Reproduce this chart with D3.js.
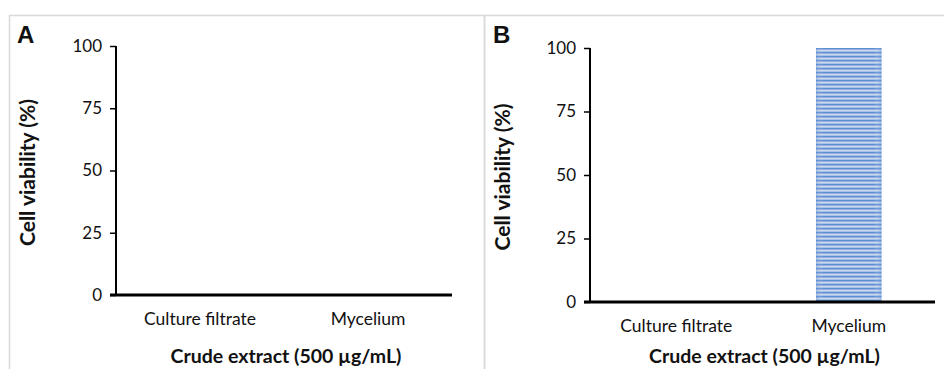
<!DOCTYPE html>
<html><head><meta charset="utf-8">
<script src="https://cdn.jsdelivr.net/npm/d3@7"></script>
<style>body{margin:0;background:#fff}svg{display:block}text{font-family:Lato,"Open Sans",sans-serif;fill:#111}</style>
</head><body>
<script>
const categories = ["Culture filtrate", "Mycelium"];
const valuesA = [0, 0];
const valuesB = [0, 100];
const yTicks = [0, 25, 50, 75, 100];
const panelLabels = ["A", "B"];
const yTitle = "Cell viability (%)";
const xTitle = "Crude extract (500 µg/mL)";

const W = 944, H = 369;
const svg = d3.select("body").append("svg").attr("width", W).attr("height", H);
const defs = svg.append("defs");
const pat = defs.append("pattern").attr("id","stripes").attr("patternUnits","userSpaceOnUse")
  .attr("width", 10).attr("height", 4);
pat.append("rect").attr("width",10).attr("height",4).attr("fill","#a8c0e6");
pat.append("rect").attr("y",0).attr("width",10).attr("height",1.3).attr("fill","#5f8dd3");
pat.append("rect").attr("y",2).attr("width",10).attr("height",0.8).attr("fill","#d3def0");
const grad = defs.append("linearGradient").attr("id","edge").attr("x1","0").attr("x2","1");
grad.append("stop").attr("offset","0").attr("stop-color","#5f8dd3").attr("stop-opacity",0.35);
grad.append("stop").attr("offset","0.12").attr("stop-color","#ffffff").attr("stop-opacity",0);
grad.append("stop").attr("offset","0.88").attr("stop-color","#ffffff").attr("stop-opacity",0);
grad.append("stop").attr("offset","1").attr("stop-color","#5f8dd3").attr("stop-opacity",0.35);

const panels = [
  {label: panelLabels[0], values: valuesA, frame:[9,15,475], x0:116, x1:452, yTop:46, yBot:295, labelX:17, titleX:28},
  {label: panelLabels[1], values: valuesB, frame:[484,15,470], x0:590, x1:935, yTop:48, yBot:302, labelX:493, titleX:503}
];

panels.forEach(p => {
  svg.append("rect").attr("x", p.frame[0]+0.5).attr("y", p.frame[1]+0.5).attr("width", p.frame[2]).attr("height", 400)
    .attr("fill","none").attr("stroke","#d9d9d9").attr("stroke-width",1.5);
  svg.append("text").attr("x", p.labelX).attr("y", 43).attr("font-size", 24).attr("font-weight", 700)
    .style("font-family","Liberation Sans, Arial, sans-serif").attr("fill","#000").text(p.label);

  const x = d3.scaleBand().domain(categories).range([p.x0, p.x1]).paddingInner(0.62).paddingOuter(0.31);
  const y = d3.scaleLinear().domain([0,100]).range([p.yBot, p.yTop]);

  svg.selectAll(null).data(categories).enter().append("rect")
    .attr("x", d => x(d)).attr("width", x.bandwidth())
    .attr("y", (d,i) => y(p.values[i])).attr("height", (d,i) => y(0) - y(p.values[i]))
    .attr("fill","url(#stripes)");
  svg.selectAll(null).data(categories).enter().append("rect")
    .attr("x", d => x(d)).attr("width", x.bandwidth())
    .attr("y", (d,i) => y(p.values[i])).attr("height", (d,i) => y(0) - y(p.values[i]))
    .attr("fill","url(#edge)");

  const ya = svg.append("g").attr("transform", `translate(${p.x0},0)`)
    .call(d3.axisLeft(y).tickValues(yTicks).tickSize(6).tickPadding(8));
  ya.select(".domain").attr("stroke","#000").attr("stroke-width",2).attr("d", `M0,${p.yTop}V${p.yBot}`);
  ya.selectAll(".tick line").attr("stroke","#000").attr("stroke-width",1.5);
  ya.selectAll(".tick text").attr("font-size", 17).style("font-family","Lato, sans-serif").attr("fill","#111");

  const xa = svg.append("g").attr("transform", `translate(0,${p.yBot})`)
    .call(d3.axisBottom(x).tickSize(0).tickPadding(18));
  xa.select(".domain").attr("stroke","#000").attr("stroke-width",3).attr("d", `M${p.x0-6},0H${p.x1}`);
  xa.selectAll(".tick text").attr("font-size", 17.5).style("font-family","Lato, sans-serif").attr("fill","#111");

  svg.append("text").attr("x", (p.x0+p.x1)/2 + 2).attr("y", 363).attr("text-anchor","middle")
    .attr("font-size", 19.5).attr("font-weight", 700).text(xTitle);
  svg.append("text").attr("transform", `translate(${p.titleX},${(p.yTop+p.yBot)/2 + 2}) rotate(-90)`)
    .attr("text-anchor","middle").attr("dy","0.35em").attr("font-size", 21).attr("font-weight", 700).text(yTitle);
});
</script>
</body></html>
